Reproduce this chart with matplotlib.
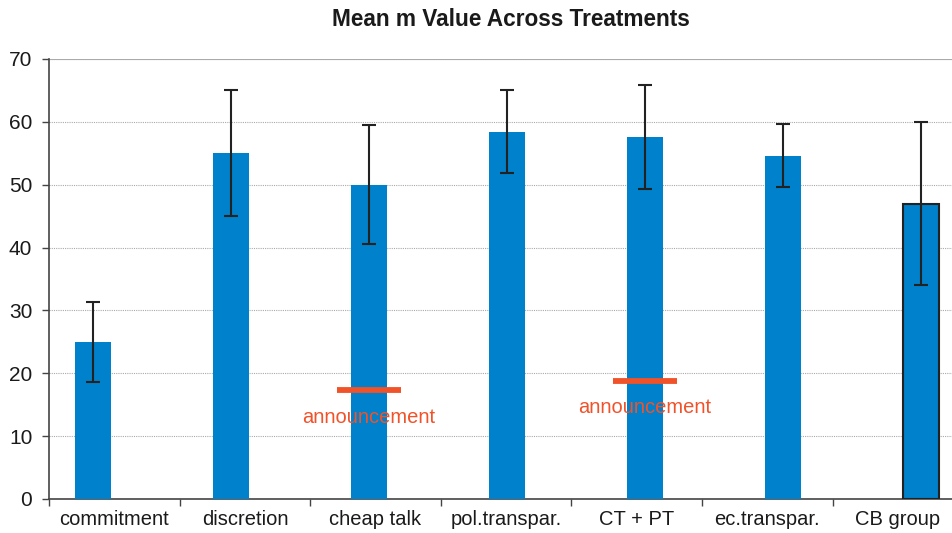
import matplotlib
matplotlib.use("Agg")
import matplotlib.pyplot as plt
import numpy as np

plt.rcParams['font.family'] = ['Liberation Sans', 'DejaVu Sans']

# Data
treatments = ['commitment', 'discretion', 'cheap talk', 'pol.transpar.',
              'CT + PT', 'ec.transpar.', 'CB group']
mean_m = [25.0, 55.0, 50.0, 58.4, 57.6, 54.6, 47.0]
err_m = [6.4, 10.0, 9.5, 6.6, 8.3, 5.0, 13.0]

# announcement markers (treatment index, level, label height)
ann_idx = [2, 4]
ann_level = [17.3, 18.7]
ann_text_y = [13.0, 14.5]

bar_color = '#0081CB'
ann_color = '#F0522A'

# layout: bars and category labels sit on slightly different spacings
bar_step_px = 138.0
cat_step_px = 130.6
first_bar_px = 93.0
axis_left_px = 49.0
fig_w_px, fig_h_px = 953, 533

fig = plt.figure(figsize=(fig_w_px / 100, fig_h_px / 100), dpi=100)
ax = fig.add_axes([axis_left_px / fig_w_px, (fig_h_px - 499) / fig_h_px,
                   1 - axis_left_px / fig_w_px, (499 - 59) / fig_h_px])

x = np.arange(len(treatments))
bars = ax.bar(x, mean_m, width=0.26, color=bar_color, zorder=3)
# last bar drawn with an outline
bars[-1].set_edgecolor('#222222')
bars[-1].set_linewidth(1.5)

ax.errorbar(x, mean_m, yerr=err_m, fmt='none', ecolor='#222222',
            elinewidth=1.5, capsize=5, capthick=1.5, zorder=4)

for i, lvl, ty in zip(ann_idx, ann_level, ann_text_y):
    ax.plot([i - 0.23, i + 0.23], [lvl, lvl], color=ann_color, lw=4.2,
            solid_capstyle='butt', zorder=5)
    ax.text(i, ty, 'announcement', color=ann_color, fontsize=14.5,
            ha='center', va='center', zorder=5)

# axes limits in bar units
scale = cat_step_px / bar_step_px
x0 = (axis_left_px - first_bar_px) / bar_step_px
x1 = (fig_w_px - first_bar_px) / bar_step_px

# category boundary ticks and centred labels
bounds = x0 + scale * np.arange(len(treatments))
centers = x0 + scale * (np.arange(len(treatments)) + 0.5)
ax.set_xticks(bounds)
ax.set_xticklabels([])
ax.set_xticks(centers, minor=True)
ax.set_xticklabels(treatments, minor=True, fontsize=14.5, color='#1a1a1a')
ax.tick_params(axis='x', which='major', direction='out', length=5,
               width=1, color='#444444')
ax.tick_params(axis='x', which='minor', length=0, pad=8)

# limits set after ticks so they are not widened
ax.set_xlim(x0, x1)
ax.set_ylim(0, 70)

ax.set_yticks(np.arange(0, 71, 10))
ax.tick_params(axis='y', direction='out', length=5, width=1,
               color='#444444', labelsize=15, labelcolor='#1a1a1a', pad=7)

ax.yaxis.grid(True, linestyle=(0, (1, 1)), color='#aaaaaa', linewidth=0.8,
              zorder=0)
ax.set_axisbelow(True)
ax.axhline(70, color='#aaaaaa', lw=1.5, zorder=1)

for side in ['top', 'right']:
    ax.spines[side].set_visible(False)
for side in ['left', 'bottom']:
    ax.spines[side].set_color('#444444')
    ax.spines[side].set_linewidth(1.2)

fig.text(511 / fig_w_px, 1 - 20 / fig_h_px, 'Mean m Value Across Treatments',
         ha='center', va='center', fontsize=16.3, fontweight='bold',
         color='#1a1a1a')

fig.savefig('out.png', dpi=100)
